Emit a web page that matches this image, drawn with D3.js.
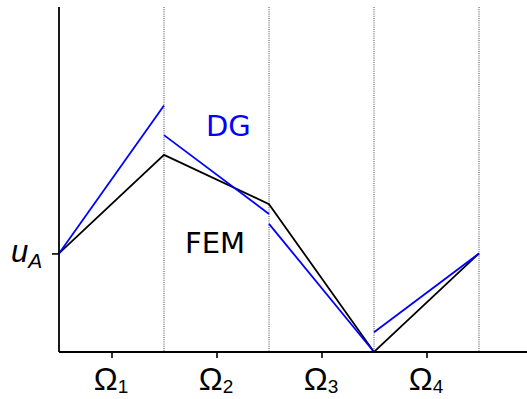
<!DOCTYPE html>
<html>
<head>
<meta charset="utf-8">
<script src="https://cdn.jsdelivr.net/npm/d3@7"></script>
<style>
  html, body { margin: 0; padding: 0; background: #fff; }
  svg { display: block; font-family: "DejaVu Sans", sans-serif; }
</style>
</head>
<body>
<svg id="chart" width="527" height="399"></svg>
<script>
// Element boundaries (x positions of the subdomain interfaces)
const boundaries = [1, 2, 3, 4];
// Subdomain labels, placed at element midpoints
const domainNames = ["1", "2", "3", "4"];
const domainCenters = [0.5, 1.5, 2.5, 3.5];
// Continuous FEM solution: nodal values
const femX = [0, 1, 2, 3, 4];
const femY = [1.0, 2.0, 1.5, 0.0, 1.0];
// Discontinuous DG solution: [left value, right value] per element
const dgLeft = [1.0, 2.2, 1.3, 0.2];
const dgRight = [2.5, 1.4, 0.0, 1.0];
const uA = 1.0;

const svg = d3.select("#chart");
const margin = { left: 59, top: 7, right: 0, bottom: 47 };
const W = 527, H = 399;

const x = d3.scaleLinear().domain([0, 4.457]).range([margin.left, W - margin.right]);
const y = d3.scaleLinear().domain([0, 3.5]).range([H - margin.bottom, margin.top]);

// Dotted interface lines
svg.append("g").selectAll("line").data(boundaries).join("line")
  .attr("x1", d => x(d)).attr("x2", d => x(d))
  .attr("y1", y(3.5)).attr("y2", y(0))
  .attr("stroke", "#333").attr("stroke-width", 0.9)
  .attr("stroke-dasharray", "1,1.2");

const line = d3.line().x(d => x(d[0])).y(d => y(d[1]));

// FEM (continuous, black)
svg.append("path")
  .datum(femX.map((v, i) => [v, femY[i]]))
  .attr("d", line).attr("fill", "none")
  .attr("stroke", "#000").attr("stroke-width", 1.8);

// DG (piecewise, blue)
svg.append("g").selectAll("path").data(dgLeft.map((v, i) => [[i, v], [i + 1, dgRight[i]]]))
  .join("path")
  .attr("d", line).attr("fill", "none")
  .attr("stroke", "#0000ff").attr("stroke-width", 1.8);

// Axes
const xAxis = d3.axisBottom(x).tickValues(domainCenters).tickSize(6).tickFormat("");
const gx = svg.append("g").attr("transform", `translate(0,${y(0)})`).call(xAxis);
gx.select(".domain").attr("stroke-width", 1.8).attr("d", `M${x(0)},0H${W}`);
gx.selectAll(".tick line").attr("stroke-width", 1.6);
gx.selectAll(".tick").append("text")
  .attr("y", 38).attr("dx", -1).attr("fill", "#000").attr("text-anchor", "middle")
  .style("font-size", "32px")
  .each(function(d, i) {
    const t = d3.select(this);
    t.append("tspan").text("Ω");
    t.append("tspan").attr("dy", 3).style("font-size", "19px").text(domainNames[i]);
  });

const yAxis = d3.axisLeft(y).tickValues([uA]).tickSize(7).tickFormat("");
const gy = svg.append("g").attr("transform", `translate(${x(0)},0)`).call(yAxis);
gy.select(".domain").attr("stroke-width", 1.8).attr("d", `M0,${y(0)}V${y(3.5)}`);
gy.selectAll(".tick line").attr("stroke-width", 1.6);
gy.selectAll(".tick").append("text")
  .attr("x", -48).attr("y", 8).attr("fill", "#000").attr("text-anchor", "start")
  .style("font-size", "31px").style("font-style", "italic")
  .each(function() {
    const t = d3.select(this);
    t.append("tspan").text("u");
    t.append("tspan").attr("dy", 6).style("font-size", "21px").text("A");
  });

// Series labels
svg.append("text").attr("x", 206).attr("y", 136)
  .attr("fill", "#0000ff").style("font-size", "29px").text("DG");
svg.append("text").attr("x", 185).attr("y", 253)
  .attr("fill", "#000").style("font-size", "29px").text("FEM");
</script>
</body>
</html>
